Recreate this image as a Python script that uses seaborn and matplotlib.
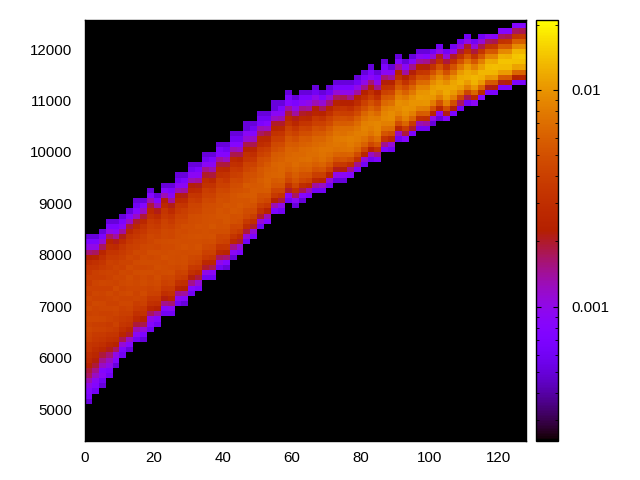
"""Density heatmap of a curved band with a log colour scale."""
import matplotlib
matplotlib.use("Agg")
import matplotlib.pyplot as plt
import numpy as np
import seaborn as sns
from matplotlib.colors import LogNorm
from matplotlib.ticker import LogLocator, NullFormatter

# bins along x are 2 wide, bins along y are 100 wide
x_step = 2
y_step = 100
y_first = 4300
y_last = 12600
x_last = 128
x_ticks = [0, 20, 40, 60, 80, 100, 120]
y_ticks = [5000, 6000, 7000, 8000, 9000, 10000, 11000, 12000]
cbar_ticks = [0.001, 0.01]
cbar_labels = ["0.001", "0.01"]
cbar_min = 0.00024
cbar_max = 0.021
y_min = 4378
y_max = 12564

# lowest y of every column, then its densities (in 1/1000) going upward
column_starts = [5100, 5300, 5400, 5600, 5800, 6000, 6100, 6300, 6300, 6500, 6600,
                 6800, 6800, 7000, 7000, 7200, 7300, 7500, 7500, 7700, 7700, 7900,
                 8000, 8200, 8300, 8500, 8600, 8800, 8800, 9000, 8900, 9000, 9100,
                 9200, 9200, 9300, 9400, 9400, 9500, 9600, 9700, 9800, 9800, 10000,
                 10000, 10200, 10200, 10300, 10400, 10400, 10500, 10600, 10600, 10700,
                 10800, 10900, 10900, 11000, 11100, 11100, 11200, 11200, 11300, 11300]
column_values = [
    [.5, .7, .8, 1, 1.3, 1.7, 1.9, 2.3, 2.7, 2.9, 3.3, 3.4, 3.9, 4, 4.3, 4.1, 4.4, 4.1, 4.5, 4.1, 4.3, 3.9, 4.1, 3.7, 3.9, 3.5, 3.3, 2.9, 2.3, 1.6, 1, .7, .5],
    [.6, .8, .9, 1.2, 1.5, 1.9, 2.2, 2.6, 2.9, 3.2, 3.5, 3.7, 4.1, 3.9, 4.4, 4.2, 4.2, 4.5, 4.1, 4.3, 4, 4.2, 3.8, 3.9, 3.4, 3.1, 2.4, 1.7, 1, .7, .5],
    [.5, .6, .9, .8, 1.2, 1.5, 1.9, 2.6, 3, 3.4, 3.6, 4, 3.8, 4.3, 4, 4.3, 4.4, 4.1, 4.2, 4, 4.4, 3.8, 4.1, 3.7, 3.4, 3, 2.5, 1.7, 1.1, .7, .5],
    [.6, .7, 1, 1.2, 1.6, 2.1, 2.6, 3.1, 3.4, 3.8, 3.7, 4.1, 4, 4.3, 4.1, 4.2, 4.5, 4, 4.3, 4.1, 4.2, 3.9, 4, 3.7, 3.3, 2.9, 2.4, 1.7, 1, .7, .5],
    [.5, .8, 1, 1.7, 2.4, 3, 3.3, 3.7, 4.1, 3.9, 4.2, 4.4, 4.1, 4.4, 4.2, 4.6, 4.2, 4.4, 4.1, 4.2, 3.9, 3.7, 3.3, 2.8, 2.1, 1.4, .9, .7, .5],
    [.6, .7, 1.1, 1.8, 2.5, 3, 3.4, 3.7, 3.9, 4, 4.4, 4.2, 4.5, 4.2, 4.5, 4.3, 4.5, 4, 4.2, 3.9, 3.7, 3.4, 2.8, 2.1, 1.4, .9, .7, .5],
    [.5, .8, 1.2, 2, 2.6, 3.2, 3.5, 3.9, 4.2, 4.4, 4.2, 4.6, 4.4, 4.6, 4.7, 4.4, 4.6, 4.2, 4.4, 4, 3.9, 3.5, 3.2, 2.6, 1.9, 1.2, .8, .5],
    [.6, .9, 1.3, 1.9, 2.7, 3.1, 3.6, 3.8, 4.3, 4.2, 4.4, 4.5, 4.4, 4.7, 4.4, 4.6, 4.2, 4.5, 4, 3.9, 3.5, 3.2, 2.6, 2, 1.2, .8, .6, .5],
    [.5, .7, 1.1, 1.8, 2.4, 3.2, 3.5, 4, 4.2, 4.6, 4.4, 4.7, 4.6, 4.8, 4.4, 4.7, 4.6, 4.4, 4.4, 4, 3.9, 3.5, 3.2, 2.6, 1.9, 1.2, .8, .5],
    [.6, .8, 1, 1.7, 2.5, 3.1, 3.5, 4.1, 4.2, 4.5, 4.4, 4.8, 4.5, 4.7, 4.5, 4.8, 4.5, 4.3, 4.4, 4.1, 3.8, 3.6, 3.1, 2.7, 1.9, 1.3, .8, .5],
    [.6, .8, 1.4, 2.3, 3, 3.5, 4, 4.4, 4.6, 4.8, 4.6, 4.9, 4.7, 4.6, 4.8, 4.4, 4.6, 4.2, 4, 3.7, 3.3, 2.8, 2.1, 1.3, .8, .5],
    [.6, .8, 1.5, 2.2, 3, 3.6, 4, 4.3, 4.7, 4.7, 4.6, 5, 4.7, 4.6, 4.7, 4.5, 4.5, 4.2, 4.1, 3.6, 3.4, 2.7, 2.2, 1.3, .8, .5],
    [.6, .9, 1.6, 2.5, 3.2, 3.7, 4.2, 4.4, 4.8, 4.6, 4.9, 4.8, 4.9, 4.6, 4.8, 4.4, 4.4, 4, 3.7, 3.3, 2.8, 2.1, 1.4, .9, .7, .5],
    [.6, .9, 1.5, 2.4, 3.1, 3.8, 4.1, 4.5, 4.7, 4.7, 4.8, 4.9, 4.9, 4.7, 4.7, 4.5, 4.3, 4.1, 3.6, 3.4, 2.7, 2.2, 1.3, .9, .6, .5],
    [.5, .8, 1.4, 2.3, 3, 3.7, 4.2, 4.6, 4.8, 4.9, 4.7, 5.1, 4.8, 4.9, 4.6, 4.8, 4.4, 4.1, 3.9, 3.3, 2.8, 2.1, 1.4, .9, .7, .5],
    [.6, .8, 1.5, 2.2, 3.1, 3.6, 4.3, 4.5, 4.8, 4.9, 4.9, 5, 4.9, 4.8, 4.7, 4.7, 4.3, 4.2, 3.8, 3.4, 2.7, 2.2, 1.3, .9, .6, .5],
    [.7, 1.1, 1.9, 2.8, 3.5, 4.1, 4.4, 4.8, 5.1, 4.9, 5.1, 4.9, 5.1, 4.8, 4.8, 4.4, 4.2, 3.7, 3.3, 2.8, 2.1, 1.4, .9, .7, .5],
    [.6, 1, 2, 2.7, 3.6, 4, 4.5, 4.7, 5, 5, 5, 5, 5, 4.9, 4.7, 4.5, 4.1, 3.8, 3.2, 2.9, 2, 1.5, .9, .6, .5],
    [.6, .9, 1.8, 2.6, 3.4, 4.1, 4.4, 4.8, 5.1, 4.9, 5.3, 5.1, 5.1, 4.9, 4.8, 4.4, 4.1, 3.7, 3.2, 2.6, 1.9, 1.3, .9, .7, .5],
    [.6, 1, 1.7, 2.7, 3.3, 4.2, 4.3, 4.9, 5, 5, 5.2, 5.2, 5, 5, 4.7, 4.5, 4, 3.8, 3.1, 2.7, 1.9, 1.4, .8, .7, .5],
    [.5, .8, 1.6, 2.5, 3.4, 4, 4.4, 4.9, 5.1, 5.3, 5.3, 5.1, 5.3, 4.9, 4.8, 4.4, 4, 3.5, 3.2, 2.6, 1.9, 1.2, .8, .6, .5],
    [.5, .9, 1.5, 2.6, 3.3, 4.1, 4.3, 5, 5, 5.4, 5.2, 5.2, 5.2, 5, 4.7, 4.5, 3.9, 3.6, 3.1, 2.7, 1.8, 1.3, .8, .6, .5],
    [.7, 1.1, 2, 2.8, 3.7, 4.4, 4.8, 5.1, 5.3, 5.5, 5.3, 5.5, 5.1, 4.8, 4.4, 4, 3.5, 3, 2.5, 1.8, 1.2, .8, .6, .5],
    [.6, 1.1, 1.9, 2.9, 3.6, 4.5, 4.7, 5.2, 5.2, 5.6, 5.2, 5.6, 5, 4.9, 4.3, 4.1, 3.4, 3.1, 2.4, 1.8, 1.1, .9, .5, .5],
    [.7, 1.1, 2, 3, 3.9, 4.6, 5.1, 5.5, 5.7, 5.7, 5.5, 5.3, 5, 4.6, 4.1, 3.5, 3, 2.5, 1.8, 1.2, .8, .6, .5],
    [.6, 1.1, 2, 3.1, 3.9, 4.7, 5, 5.6, 5.6, 5.8, 5.4, 5.4, 4.9, 4.7, 4, 3.6, 2.9, 2.6, 1.7, 1.3, .7, .6, .5],
    [.8, 1.3, 2.4, 3.5, 4.4, 5.1, 5.7, 6.1, 6.2, 6.1, 5.9, 5.5, 5, 4.4, 3.9, 3.1, 2.6, 1.9, 1.2, .8, .6, .5],
    [.7, 1.3, 2.3, 3.6, 4.3, 5.2, 5.6, 6.2, 6.1, 6.2, 5.8, 5.6, 4.9, 4.5, 3.8, 3.2, 2.5, 2, 1.2, .9, .5, .5],
    [.6, 1, 1.9, 3.2, 4.3, 5.2, 5.8, 6.3, 6.5, 6.5, 6.1, 5.8, 5.2, 4.6, 3.9, 3.3, 2.6, 2, 1.3, .9, .7, .5],
    [.6, .9, 2, 3.1, 4.4, 5.1, 5.9, 6.2, 6.6, 6.4, 6.2, 5.7, 5.3, 4.5, 4, 3.2, 2.7, 1.9, 1.4, .8, .7, .5],
    [.5, .9, 1.7, 3, 4.3, 5.2, 5.8, 6.4, 6.8, 6.7, 6.6, 6.1, 5.6, 4.9, 4.1, 3.4, 2.6, 2.1, 1.4, 1, .7, .5],
    [.5, .8, 1.8, 2.9, 4.4, 5.1, 5.9, 6.3, 6.9, 6.6, 6.7, 6, 5.7, 4.8, 4.2, 3.3, 2.7, 2, 1.5, .9, .7, .5],
    [.7, 1.3, 2.6, 4, 5, 6, 6.5, 7, 6.9, 6.8, 6.2, 5.6, 4.9, 4.1, 3.4, 2.6, 2.1, 1.4, 1, .7, .5],
    [.6, 1.4, 2.7, 3.9, 5.1, 5.9, 6.6, 6.9, 7, 6.7, 6.3, 5.5, 5, 4, 3.5, 2.5, 2.2, 1.3, 1, .6, .5],
    [.6, 1.2, 2.5, 3.9, 5.3, 6.2, 7, 7.3, 7.4, 6.9, 6.4, 5.6, 4.7, 4, 3.2, 2.4, 1.7, 1.1, .7, .5],
    [.6, 1.1, 2.4, 4, 5.2, 6.3, 6.9, 7.4, 7.3, 7, 6.3, 5.7, 4.6, 4.1, 3.1, 2.5, 1.6, 1.1, .6, .5],
    [.5, 1, 2.1, 3.6, 5.1, 6.2, 7.2, 7.5, 7.8, 7.3, 6.8, 5.8, 4.9, 4, 3.2, 2.4, 1.7, 1.1, .7, .5],
    [.5, .9, 2.2, 3.5, 5.2, 6.1, 7.3, 7.4, 7.9, 7.2, 6.9, 5.7, 5, 3.9, 3.3, 2.3, 1.8, 1, .7, .5],
    [.8, 1.5, 3, 4.7, 6.2, 7.4, 7.9, 8.2, 7.5, 6.9, 5.8, 4.7, 3.8, 3, 2.3, 1.5, 1, .7, .5],
    [.7, 1.5, 3.1, 4.6, 6.3, 7.3, 8, 8.1, 7.6, 6.8, 5.9, 4.6, 3.9, 2.9, 2.4, 1.4, 1, .6, .5],
    [.6, 1.1, 2.5, 4.3, 6.1, 7.3, 8.2, 8.5, 8.2, 7.3, 6.3, 5, 4, 3, 2.3, 1.5, 1, .7, .5],
    [.6, 1.2, 2.4, 4.4, 6, 7.4, 8.1, 8.6, 8.1, 7.4, 6.2, 5.1, 3.9, 3.1, 2.2, 1.6, .9, .7, .5],
    [.7, 1.5, 3.2, 5.3, 7, 8.4, 8.9, 8.8, 7.9, 6.7, 5.3, 4.2, 3, 2.3, 1.5, 1, .7, .5],
    [.7, 1.5, 3.3, 5.2, 7.1, 8.3, 9, 8.7, 8, 6.6, 5.4, 4.1, 3.1, 2.2, 1.6, .9, .7, .5],
    [.6, 1.1, 2.7, 4.7, 6.9, 8.3, 9.3, 9.4, 8.5, 7.2, 5.7, 4.4, 3.2, 2.3, 1.4, .9, .5],
    [.6, 1.2, 2.6, 4.8, 6.8, 8.4, 9.2, 9.5, 8.4, 7.3, 5.6, 4.5, 3.1, 2.4, 1.4, .8, .5],
    [.8, 1.9, 3.8, 6.3, 8.4, 9.5, 9.9, 9.2, 7.8, 6.1, 4.6, 3.2, 2.3, 1.4, .9, .5],
    [.7, 2, 3.7, 6.4, 8.3, 9.6, 9.8, 9.3, 7.7, 6.2, 4.5, 3.3, 2.2, 1.5, .8, .5],
    [.6, 1.3, 3.1, 5.7, 8.2, 9.9, 10.5, 9.9, 8.6, 6.7, 5, 3.4, 2.3, 1.4, .9, .5],
    [.6, 1.4, 3, 5.8, 8.1, 10, 10.4, 10, 8.5, 6.8, 4.9, 3.5, 2.2, 1.5, .8, .5],
    [.5, 1, 2.5, 5.1, 8, 10.1, 11.1, 10.7, 9.1, 7.1, 5, 3.2, 1.9, 1.1, .6],
    [.5, .9, 2.6, 5, 8.1, 10, 11.2, 10.6, 9.2, 7, 5.1, 3.1, 2, 1, .6],
    [.8, 2.1, 4.9, 8.2, 10.5, 11.7, 11.3, 9.5, 7.3, 5, 3.2, 1.9, 1.1, .6],
    [.7, 2.2, 4.8, 8.3, 10.4, 11.8, 11.2, 9.6, 7.2, 5.1, 3.1, 2, 1, .6],
    [.6, 1.7, 4.4, 8, 10.7, 12.3, 12, 10.3, 7.7, 5.1, 3.2, 1.9, 1.1, .6],
    [.6, 1.8, 4.3, 8.1, 10.6, 12.4, 11.9, 10.4, 7.6, 5.2, 3.1, 2, 1, .6],
    [.9, 2.7, 6.3, 10.1, 12.5, 12.9, 11.1, 8.2, 5.4, 3.2, 1.9, 1.1, .6],
    [.8, 2.8, 6.2, 10.2, 12.4, 13, 11, 8.3, 5.3, 3.3, 1.8, 1.1, .6],
    [.7, 2.1, 5.5, 10, 12.9, 13.5, 11.9, 8.6, 5.5, 3.2, 1.7, .9],
    [.7, 2.2, 5.4, 10.1, 12.8, 13.6, 11.8, 8.7, 5.4, 3.3, 1.8, .8],
    [.7, 2.1, 5.7, 10.5, 13.5, 14.1, 12.5, 9, 5.7, 3.2, 1.7, .8],
    [.7, 2.2, 5.6, 10.6, 13.4, 14.2, 12.4, 9.1, 5.6, 3.3, 1.8, .8],
    [.7, 2.3, 6.3, 11.1, 13.9, 14.5, 12.9, 9.2, 5.9, 3.4, 1.7, .8],
    [.7, 2.4, 6.2, 11.2, 13.8, 14.6, 12.8, 9.3, 5.8, 3.5, 1.8, .8],
]

sns.set_theme(style="ticks")
plt.rcParams["font.family"] = ["Liberation Sans", "DejaVu Sans"]

# empty bins stay NaN and show the black axes background
n_rows = (y_last - y_first) // y_step
density = np.full((n_rows, len(column_values)), np.nan)
for col, (start, values) in enumerate(zip(column_starts, column_values)):
    row = (start - y_first) // y_step
    density[row:row + len(values), col] = np.array(values) / 1000

fig = plt.figure(figsize=(6.4, 4.8), dpi=100)
ax = fig.add_axes([85 / 640, 39 / 480, 441 / 640, 421 / 480])
cax = fig.add_axes([536 / 640, 39 / 480, 22 / 640, 421 / 480])
ax.set_facecolor("black")

sns.heatmap(density, cmap="gnuplot", norm=LogNorm(vmin=cbar_min, vmax=cbar_max),
            ax=ax, cbar_ax=cax, xticklabels=False, yticklabels=False)

ax.set_xlim(0, x_last / x_step)
ax.set_ylim((y_min - y_first) / y_step, (y_max - y_first) / y_step)
ax.set_xticks([v / x_step for v in x_ticks], [str(v) for v in x_ticks])
ax.set_yticks([(v - y_first) / y_step for v in y_ticks], [str(v) for v in y_ticks])
ax.tick_params(axis="both", length=0, labelsize=10.8, labelcolor="black")
ax.tick_params(axis="x", pad=7, labelrotation=0)
ax.tick_params(axis="y", pad=9, labelrotation=0)
for spine in ax.spines.values():
    spine.set_visible(True)
    spine.set_color("black")
    spine.set_linewidth(1)

cbar = ax.collections[0].colorbar
cbar.set_ticks(cbar_ticks, labels=cbar_labels)
cbar.ax.yaxis.set_minor_locator(LogLocator(base=10, subs=range(2, 10)))
cbar.ax.yaxis.set_minor_formatter(NullFormatter())
cbar.ax.set_axisbelow(False)
cbar.ax.tick_params(which="major", direction="in", left=True, right=True, length=3.5,
                    width=0.8, color="black", labelsize=10.8, labelcolor="black", pad=9.5)
cbar.ax.tick_params(which="minor", direction="in", left=True, right=True, length=2,
                    width=0.6, color="black")
cbar.outline.set_visible(True)
cbar.outline.set_edgecolor("black")
cbar.outline.set_linewidth(1)

plt.savefig("out.png", dpi=100)
plt.close()
